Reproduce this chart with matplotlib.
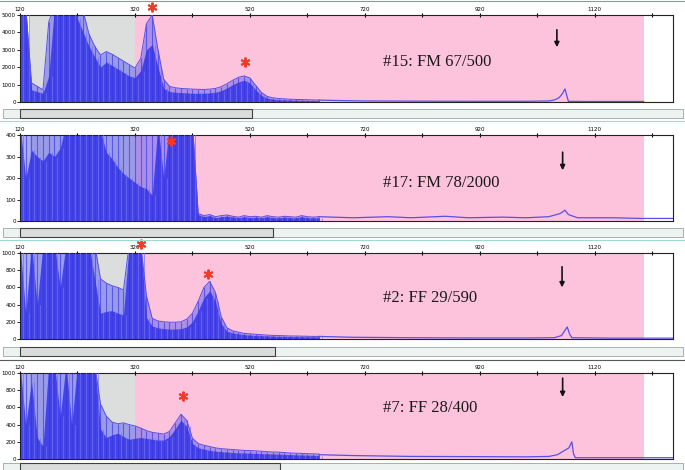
import numpy as np
import matplotlib.pyplot as plt
from matplotlib.patches import Rectangle
from matplotlib.transforms import blended_transform_factory

# fragment sizes (bp) for the dense stutter region, one value per 10 bp
sizes = np.arange(120, 641, 10)

# panel 1: #15 FM 67/500
p1_env = [5500, 5500, 1100, 900, 700, 4600, 5500, 5500, 5500, 5500, 5500, 5200, 3900, 3200,
          2700, 2900, 2750, 2550, 2350, 2150, 1950, 2500, 4500, 5000, 3000, 1300, 900, 820,
          780, 760, 740, 730, 720, 740, 780, 880, 1050, 1250, 1420, 1500, 1380, 950, 550,
          320, 240, 200, 180, 160, 150, 140, 130, 120, 110]
p1_core = [5500, 5500, 700, 600, 500, 1500, 5500, 5500, 5000, 5500, 4800, 4000, 3200, 2600,
           2000, 2300, 2100, 1900, 1700, 1500, 1400, 1800, 3000, 3300, 2000, 800, 600, 560,
           540, 520, 500, 500, 500, 520, 560, 650, 800, 1000, 1150, 1250, 1100, 700, 380,
           220, 160, 130, 120, 110, 100, 90, 80, 80, 70]
p1_tail_x = [640, 680, 720, 800, 900, 1000, 1040, 1050, 1058, 1064, 1068, 1071, 1074, 1100, 1205]
p1_tail_y = [110, 80, 60, 50, 40, 40, 60, 120, 250, 500, 750, 400, 40, 30, 30]

# panel 2: #17 FM 78/2000
p2_env = [450] * 31 + [35, 25, 30, 20, 25, 28, 22, 18, 25, 20, 22, 18, 25, 20, 18, 22,
                       20, 18, 25, 20, 18, 20]
p2_core = [450, 200, 330, 300, 280, 320, 300, 340, 450, 450, 450, 450, 450, 450, 420, 320,
           290, 250, 220, 200, 180, 160, 150, 120, 450, 200, 450, 450, 450, 450, 450, 30,
           20, 25, 15, 20, 22, 18, 15, 20, 15, 18, 15, 20, 15, 14, 18, 15, 14, 20, 15, 14, 15]
p2_tail_x = [640, 700, 760, 800, 860, 900, 960, 1000, 1040, 1060, 1068, 1074, 1090, 1150, 1200, 1256]
p2_tail_y = [20, 15, 20, 15, 22, 15, 18, 15, 20, 35, 50, 30, 15, 15, 12, 12]

# panel 3: #2 FF 29/590
p3_env = [1100] * 14 + [700, 650, 620, 600, 570, 1100, 1100, 1100, 500, 240, 210, 200, 195,
                        195, 200, 230, 300, 440, 600, 670, 540, 260, 130, 95, 80, 65, 60,
                        55, 50, 45, 42, 40, 38, 35, 35, 33, 32, 30, 30]
p3_core = [1100, 300, 1100, 400, 1100, 1100, 1100, 600, 1100, 1100, 1100, 1100, 1100, 700,
           300, 320, 330, 300, 280, 1100, 1100, 1100, 250, 150, 130, 120, 115, 115, 120,
           140, 200, 330, 480, 560, 440, 180, 90, 70, 60, 50, 45, 40, 38, 35, 33, 30, 30,
           28, 28, 26, 25, 25, 24]
p3_tail_x = [640, 700, 800, 900, 1000, 1050, 1062, 1068, 1072, 1076, 1080, 1150, 1256]
p3_tail_y = [30, 20, 15, 12, 12, 15, 40, 100, 140, 60, 15, 10, 10]

# panel 4: #7 FF 28/400
p4_env = [1100, 1100, 1000] + [1100] * 11 + [640, 500, 430, 410, 420, 400, 385, 360, 330,
                                             310, 300, 290, 320, 420, 520, 450, 240, 180,
                                             160, 145, 130, 120, 115, 110, 105, 100, 98, 95,
                                             90, 85, 82, 80, 75, 70, 68, 65, 62, 60, 58]
p4_core = [1100, 400, 900, 250, 150, 1100, 1100, 500, 1100, 400, 1100, 1100, 1100, 1100,
           350, 250, 280, 300, 260, 230, 240, 250, 240, 230, 220, 220, 260, 350, 450, 380,
           180, 130, 115, 100, 90, 85, 80, 75, 72, 70, 68, 65, 62, 60, 58, 55, 52, 50, 48,
           46, 44, 42, 40]
p4_tail_x = [640, 700, 800, 900, 1000, 1040, 1055, 1065, 1075, 1080, 1083, 1086, 1150, 1205, 1256]
p4_tail_y = [50, 40, 30, 28, 25, 30, 50, 90, 130, 200, 60, 15, 15, 15, 15]

labels = ["#15: FM 67/500", "#17: FM 78/2000", "#2: FF 29/590", "#7: FF 28/400"]
ymax = [5000, 400, 1000, 1000]
ystep = [1000, 100, 200, 200]

W, H = 685, 470
fig = plt.figure(figsize=(W / 100, H / 100), dpi=100)

# axes boxes in pixels: (top, bottom)
boxes = [(15, 102), (135, 221), (253, 339), (373, 459)]
envs = [p1_env, p2_env, p3_env, p4_env]
cores = [p1_core, p2_core, p3_core, p4_core]
tails = [(p1_tail_x, p1_tail_y), (p2_tail_x, p2_tail_y), (p3_tail_x, p3_tail_y), (p4_tail_x, p4_tail_y)]

# asterisks (bp, axes fraction), arrows (bp, y top, y bottom), label y
stars = [[(349, 1.09), (511, 0.46)], [(383, 0.93)], [(330, 1.10), (447, 0.756)], [(403, 0.733)]]
arrows = [(1054, 0.83, 0.63), (1064, 0.80, 0.59), (1063, 0.84, 0.60), (1064, 0.94, 0.72)]
label_y = [0.46, 0.44, 0.477, 0.59]
thumbs = [(109, 118, 252), (228, 237, 273), (347, 356, 275), (463, 472, 280)]

blue_light = '#5a5af0'
blue_dark = '#3434e6'
trace = '#5a4ee6'

for i in range(4):
    top, bot = boxes[i]
    ax = fig.add_axes([20 / W, 1 - bot / H, 653 / W, (bot - top) / H])
    ax.set_xlim(120, 1256)
    ax.set_ylim(0, ymax[i])

    ax.axvspan(138, 320, color='#dcdedd', lw=0, zorder=0)
    ax.axvspan(320, 1205, color='#fdc3dd', lw=0, zorder=0)

    ax.fill_between(sizes, 0, envs[i], color=blue_light, alpha=0.5, lw=0, zorder=1)
    ax.vlines(sizes, 0, envs[i], color='#4848ec', lw=0.8, alpha=0.8, zorder=2)
    ax.fill_between(sizes, 0, cores[i], color=blue_dark, alpha=0.85, lw=0, zorder=2)
    ax.vlines(sizes + 5, 0, cores[i], color='#7070f4', lw=0.6, alpha=0.8, zorder=3)
    ax.plot(sizes, envs[i], color=trace, lw=0.7, zorder=3)
    tx, ty = tails[i]
    ax.plot(tx, ty, color=trace, lw=0.9, zorder=3)

    ax.xaxis.tick_top()
    ax.set_xticks(np.arange(120, 1257, 200))
    ax.set_xticks(np.arange(220, 1257, 200), minor=True)
    ax.tick_params(axis='x', which='both', direction='inout', length=3, width=0.8,
                   labelsize=4, pad=1, top=True, bottom=False)
    ax.set_yticks(np.arange(0, ymax[i] + 1, ystep[i]))
    ax.tick_params(axis='y', direction='out', length=2, width=0.6, labelsize=4, pad=1)
    for s in ax.spines.values():
        s.set_linewidth(0.8)
        s.set_color('#222222')

    tr = blended_transform_factory(ax.transData, ax.transAxes)
    for sx, sy in stars[i]:
        ax.plot(sx, sy, marker=(6, 2, 0), ms=7, mew=1.4, color='#f03a2a',
                transform=tr, clip_on=False, zorder=6)
    axx, ay0, ay1 = arrows[i]
    ax.annotate('', xy=(axx, ay1), xytext=(axx, ay0), xycoords=tr, textcoords=tr,
                arrowprops=dict(arrowstyle='-|>', color='#111111', lw=1.2,
                                mutation_scale=7, shrinkA=0, shrinkB=0))
    ax.text(752, label_y[i], labels[i], transform=tr, ha='left', va='center',
            fontsize=12, family='Liberation Serif', color='#1a1a1a', zorder=6)

    # scroll bar under each trace window
    y0, y1, tx1 = thumbs[i]
    fig.patches.append(Rectangle((3 / W, 1 - y1 / H), 680 / W, (y1 - y0) / H,
                                 transform=fig.transFigure, facecolor='#edf3f1',
                                 edgecolor='#9aa6a2', lw=0.6))
    fig.patches.append(Rectangle((20 / W, 1 - y1 / H), (tx1 - 20) / W, (y1 - y0) / H,
                                 transform=fig.transFigure, facecolor='#d9dcda',
                                 edgecolor='#404040', lw=0.8))

# thin separator lines
for yy, c in [(1, '#8a9a96'), (121, '#9fd8d0'), (240, '#9fd8d0'), (360, '#5a5a5a')]:
    fig.lines.append(plt.Line2D([0, 1], [1 - yy / H, 1 - yy / H], transform=fig.transFigure,
                                color=c, lw=0.8))

fig.savefig('out.png', dpi=100)
